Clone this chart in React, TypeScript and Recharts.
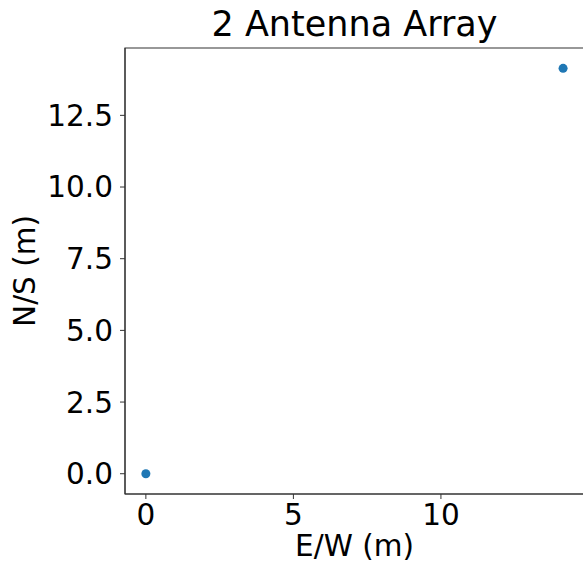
import { ScatterChart, Scatter, XAxis, YAxis, ZAxis, ReferenceArea } from 'recharts';

const eastWest = [0, 14.14];
const northSouth = [0, 14.14];
const xTicks = [0, 5, 10];
const yTicks = [0, 2.5, 5, 7.5, 10, 12.5];
const xDomain = [-0.707, 14.849];
const yDomain = [-0.707, 14.849];

const FONT = 'DejaVu Sans';
const SPINE = '#333';
const SIZE = 29.5;

const points = eastWest.map((x, i) => ({ x, y: northSouth[i] }));

export default function App() {
  return (
    <div
      style={{
        position: 'absolute',
        left: 0,
        top: 0,
        width: 583,
        height: 562,
        overflow: 'hidden',
        background: '#fff',
        fontFamily: FONT,
      }}
    >
      <div
        style={{
          position: 'absolute',
          left: 125,
          width: 459,
          top: 7,
          textAlign: 'center',
          fontSize: 35,
          lineHeight: '35px',
          color: '#000',
        }}
      >
        2 Antenna Array
      </div>
      <ScatterChart width={600} height={562} margin={{ top: 48, right: 16, left: 0, bottom: 0 }}>
        <XAxis
          type="number"
          dataKey="x"
          domain={xDomain}
          ticks={xTicks}
          allowDataOverflow
          height={68}
          tickSize={5}
          tickMargin={5}
          stroke={SPINE}
          tick={{ fontSize: SIZE, fill: '#000', fontFamily: FONT }}
          label={(props: any) => {
            const vb = props.viewBox;
            return (
              <text
                x={vb.x + vb.width / 2}
                y={556}
                textAnchor="middle"
                fontSize={SIZE}
                fontFamily={FONT}
                fill="#000"
              >
                E/W (m)
              </text>
            );
          }}
        />
        <YAxis
          type="number"
          dataKey="y"
          domain={yDomain}
          ticks={yTicks}
          allowDataOverflow
          width={125}
          tickSize={5}
          tickMargin={7}
          stroke={SPINE}
          tickFormatter={(v: number) => v.toFixed(1)}
          tick={{ fontSize: SIZE, fill: '#000', fontFamily: FONT }}
          label={(props: any) => {
            const vb = props.viewBox;
            const cy = vb.y + vb.height / 2;
            return (
              <text
                x={35}
                y={cy}
                textAnchor="middle"
                transform={`rotate(-90, 35, ${cy})`}
                fontSize={SIZE}
                fontFamily={FONT}
                fill="#000"
              >
                N/S (m)
              </text>
            );
          }}
        />
        <ZAxis range={[70, 70]} />
        <ReferenceArea
          x1={xDomain[0]}
          x2={xDomain[1]}
          y1={yDomain[0]}
          y2={yDomain[1]}
          fill="none"
          stroke={SPINE}
          strokeWidth={1.2}
          fillOpacity={0}
        />
        <Scatter data={points} fill="#1f77b4" isAnimationActive={false} />
      </ScatterChart>
    </div>
  );
}
